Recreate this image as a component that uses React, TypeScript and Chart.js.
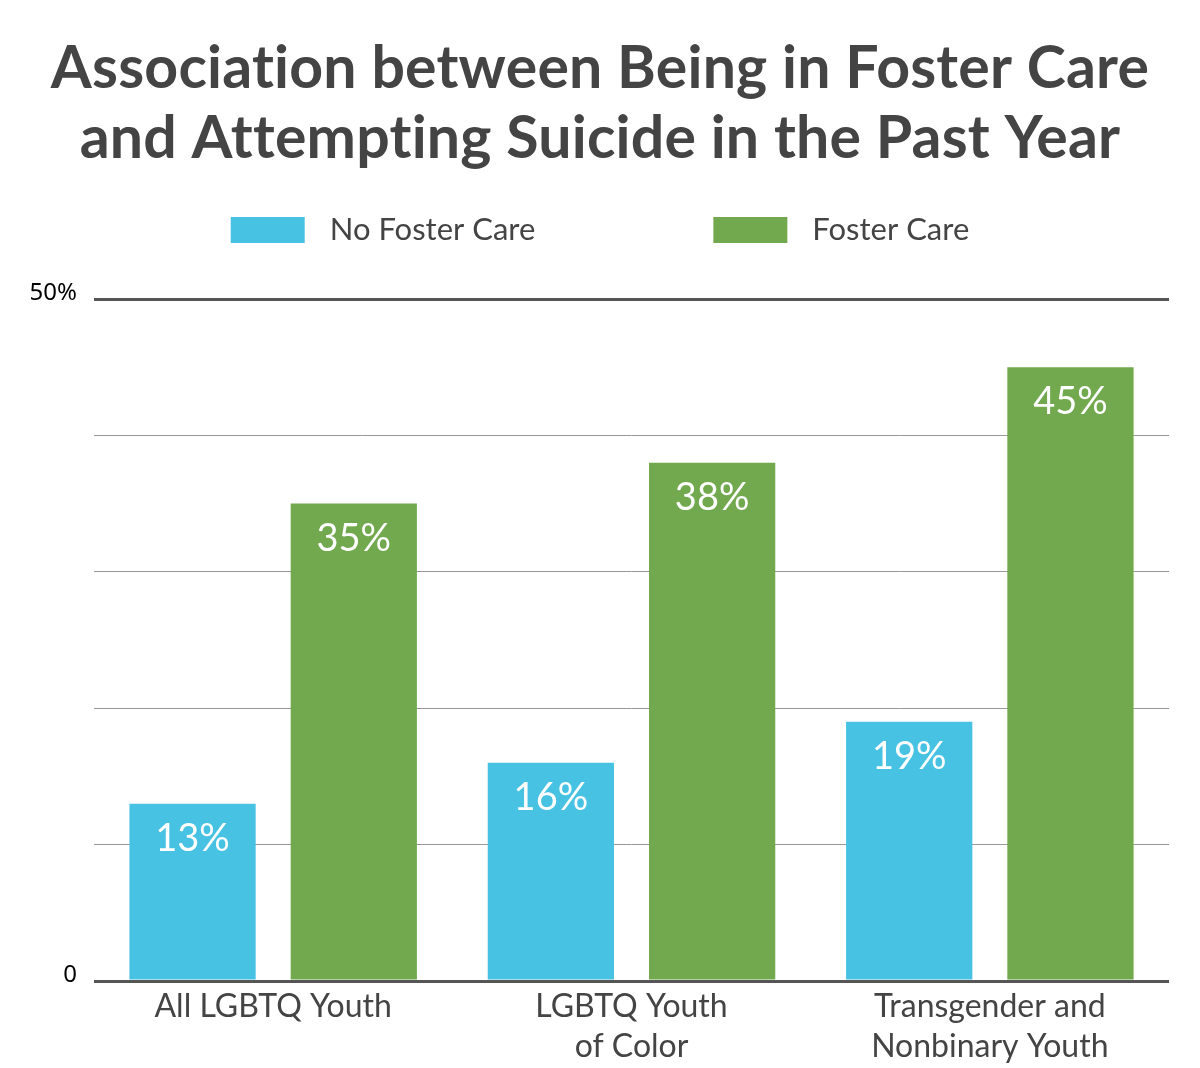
import React, { useEffect, useRef } from 'react';
import { Chart, registerables } from 'chart.js';

Chart.register(...registerables);

const titleLines = ['Association between Being in Foster Care', 'and Attempting Suicide in the Past Year'];
const categories = [['All LGBTQ Youth'], ['LGBTQ Youth', 'of Color'], ['Transgender and', 'Nonbinary Youth']];
const seriesNames = ['No Foster Care', 'Foster Care'];
const noFosterCare = [13, 16, 19];
const fosterCare = [35, 38, 45];
const seriesColors = ['#48C2E3', '#72A94F'];
const yTickLabels: Record<number, string> = { 0: '0', 50: '50%' };
const yMin = 0;
const yMax = 50;
const yStep = 10;

const TEXT = '#444444';

const overlay = {
  id: 'overlay',
  afterDatasetsDraw(chart: any) {
    const ctx = chart.ctx;
    ctx.save();
    ctx.fillStyle = '#ffffff';
    ctx.font = '38px Lato';
    ctx.textAlign = 'center';
    ctx.textBaseline = 'middle';
    chart.data.datasets.forEach((ds: any, di: number) => {
      const meta = chart.getDatasetMeta(di);
      meta.data.forEach((bar: any, i: number) => {
        ctx.fillText(ds.data[i] + '%', bar.x, bar.y + 35);
      });
    });
    ctx.restore();
  },
  afterDraw(chart: any) {
    const ctx = chart.ctx;
    const W = chart.width;
    ctx.save();
    // title
    ctx.fillStyle = TEXT;
    ctx.font = 'bold 59px Lato';
    try {
      (ctx as any).letterSpacing = '0.2px';
    } catch (e) {}
    ctx.textAlign = 'center';
    ctx.textBaseline = 'alphabetic';
    titleLines.forEach((line, i) => {
      ctx.fillText(line, W / 2, 88 + i * 70);
    });
    try {
      (ctx as any).letterSpacing = '0px';
    } catch (e) {}
    // legend
    ctx.font = '31px Lato';
    const boxW = 74;
    const boxH = 26;
    const gap = 25;
    const itemGap = 178;
    const widths = chart.data.datasets.map((ds: any) => boxW + gap + ctx.measureText(ds.label).width);
    const total = widths.reduce((a: number, b: number) => a + b, 0) + itemGap * (widths.length - 1);
    let x = (W - total) / 2;
    const cy = 230;
    chart.data.datasets.forEach((ds: any, i: number) => {
      ctx.fillStyle = ds.backgroundColor;
      ctx.fillRect(x, cy - boxH / 2, boxW, boxH);
      ctx.fillStyle = TEXT;
      ctx.textAlign = 'left';
      ctx.textBaseline = 'middle';
      ctx.fillText(ds.label, x + boxW + gap, cy);
      x += widths[i] + itemGap;
    });
    ctx.restore();
  },
};

export default function App() {
  const ref = useRef<HTMLCanvasElement | null>(null);
  useEffect(() => {
    if (!ref.current) return;
    const chart = new Chart(ref.current, {
      type: 'bar',
      data: {
        labels: categories,
        datasets: [
          { label: seriesNames[0], data: noFosterCare, backgroundColor: seriesColors[0], categoryPercentage: 0.9, barPercentage: 0.783 },
          { label: seriesNames[1], data: fosterCare, backgroundColor: seriesColors[1], categoryPercentage: 0.9, barPercentage: 0.783 },
        ] as any,
      },
      options: {
        animation: false,
        responsive: true,
        maintainAspectRatio: false,
        layout: { padding: { top: 299, right: 31, bottom: 0, left: 0 } },
        plugins: {
          legend: { display: false },
          title: { display: false },
          tooltip: { enabled: false },
        },
        scales: {
          x: {
            grid: { display: false },
            border: { display: false },
            ticks: {
              color: TEXT,
              font: { family: 'Lato', size: 32, lineHeight: 1.25 },
              padding: -2,
              maxRotation: 0,
              autoSkip: false,
            },
            afterFit(scale: any) {
              scale.height = 87;
            },
          },
          y: {
            min: yMin,
            max: yMax,
            border: { display: false },
            grid: {
              drawTicks: false,
              color: (c: any) => (c.tick && (c.tick.value === yMin || c.tick.value === yMax) ? '#555555' : '#999999'),
              lineWidth: (c: any) => (c.tick && (c.tick.value === yMin || c.tick.value === yMax) ? 3 : 1),
            },
            ticks: {
              stepSize: yStep,
              color: '#000000',
              font: { family: 'Noto Sans', size: 24 },
              padding: 17,
              labelOffset: -6,
              callback: (v: any) => yTickLabels[Number(v)] ?? '',
            },
            afterFit(scale: any) {
              scale.width = 94;
            },
          },
        },
      },
      plugins: [overlay],
    });
    return () => chart.destroy();
  }, []);
  return (
    <div style={{ position: 'absolute', left: 0, top: 0, width: 1200, height: 1068, background: '#fff' }}>
      <canvas ref={ref} />
    </div>
  );
}
